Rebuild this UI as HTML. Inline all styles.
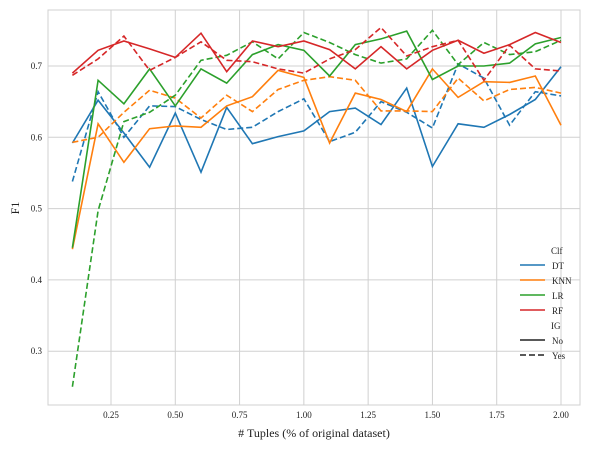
<!DOCTYPE html>
<html><head><meta charset="utf-8"><style>
body{margin:0;background:#fff;}
svg{display:block;font-family:"Liberation Serif",serif;}
</style></head><body>
<svg id="chart" width="595" height="450"></svg>
<script>
const xs=[0.1,0.2,0.3,0.4,0.5,0.6,0.7,0.8,0.9,1.0,1.1,1.2,1.3,1.4,1.5,1.6,1.7,1.8,1.9,2.0];
const xTicks=[0.25,0.5,0.75,1.0,1.25,1.5,1.75,2.0];
const xTickLabels=["0.25","0.50","0.75","1.00","1.25","1.50","1.75","2.00"];
const yTicks=[0.3,0.4,0.5,0.6,0.7];
const yTickLabels=["0.3","0.4","0.5","0.6","0.7"];
const dtNo=[0.592,0.652,0.606,0.558,0.634,0.551,0.642,0.591,0.601,0.609,0.636,0.641,0.618,0.669,0.559,0.619,0.614,0.632,0.653,0.699];
const dtYes=[0.538,0.664,0.600,0.644,0.643,0.625,0.611,0.614,0.636,0.654,0.594,0.607,0.650,0.635,0.613,0.703,0.683,0.617,0.664,0.658];
const knnNo=[0.443,0.619,0.565,0.612,0.616,0.614,0.644,0.657,0.694,0.684,0.592,0.662,0.653,0.636,0.696,0.656,0.678,0.677,0.686,0.617];
const knnYes=[0.593,0.600,0.635,0.666,0.655,0.627,0.659,0.636,0.667,0.680,0.685,0.680,0.637,0.637,0.636,0.683,0.651,0.667,0.670,0.662];
const lrNo=[0.445,0.680,0.647,0.696,0.644,0.696,0.676,0.716,0.730,0.722,0.686,0.730,0.738,0.749,0.681,0.700,0.700,0.704,0.731,0.740];
const lrYes=[0.250,0.497,0.622,0.635,0.659,0.708,0.715,0.734,0.710,0.747,0.733,0.716,0.704,0.710,0.750,0.702,0.733,0.716,0.720,0.736];
const rfNo=[0.690,0.722,0.735,0.724,0.712,0.746,0.692,0.735,0.727,0.735,0.723,0.696,0.727,0.696,0.722,0.736,0.718,0.730,0.747,0.733];
const rfYes=[0.687,0.710,0.742,0.694,0.712,0.734,0.708,0.706,0.696,0.690,0.710,0.723,0.754,0.714,0.727,0.736,0.680,0.729,0.696,0.693];

const NS="http://www.w3.org/2000/svg";
const svg=document.getElementById('chart');
function mk(t,a,p){const e=document.createElementNS(NS,t);for(const k in a)e.setAttribute(k,a[k]);(p||svg).appendChild(e);return e;}
const L=48,R=580,T=10,B=405;
const X=v=>111+(v-0.25)*(561-111)/1.75;
const Y=v=>66+(0.7-v)*713;

const grid=mk('g',{});


xTicks.forEach((t,i)=>{
  const l=mk('line',{x1:X(t),x2:X(t),y1:T,y2:B,stroke:'#d0d0d0','stroke-width':1},grid);
  
  
  const tx=mk('text',{x:X(t),y:B+13,'text-anchor':'middle','font-size':9,fill:'#222'});
  tx.textContent=xTickLabels[i];
  
  
});
yTicks.forEach((t,i)=>{
  const l=mk('line',{x1:L,x2:R,y1:Y(t),y2:Y(t),stroke:'#d0d0d0','stroke-width':1},grid);
  
  
  const tx=mk('text',{x:L-6,y:Y(t)+3,'text-anchor':'end','font-size':9,fill:'#222'});
  tx.textContent=yTickLabels[i];
  
  
});
const frame=mk('rect',{x:L,y:T,width:R-L,height:B-T,fill:'none',stroke:'#d0d0d0','stroke-width':1});



const series=[
 ['dt-no',dtNo,'#1f77b4',false],['dt-yes',dtYes,'#1f77b4',true],
 ['knn-no',knnNo,'#ff7f0e',false],['knn-yes',knnYes,'#ff7f0e',true],
 ['lr-no',lrNo,'#2ca02c',false],['lr-yes',lrYes,'#2ca02c',true],
 ['rf-no',rfNo,'#d62728',false],['rf-yes',rfYes,'#d62728',true]];
series.forEach(s=>{
  const d=s[1].map((v,i)=>(i?'L':'M')+X(xs[i]).toFixed(1)+','+Y(v).toFixed(1)).join(' ');
  const p=mk('path',{d:d,fill:'none',stroke:s[2],'stroke-width':1.6,'stroke-dasharray':s[3]?'6,3':'none'});
  
  
});

const xl=mk('text',{x:(L+R)/2,y:437,'text-anchor':'middle','font-size':12,fill:'#222'});
xl.textContent='# Tuples (% of original dataset)';


const yl=mk('text',{x:19,y:208,'text-anchor':'middle','font-size':12,fill:'#222',transform:'rotate(-90 19 208)'});
yl.textContent='F1';



const leg=mk('g',{});


const items=[['Clf',null,false,253],['DT','#1f77b4',false,268],['KNN','#ff7f0e',false,283],['LR','#2ca02c',false,298],['RF','#d62728',false,313],['IG',null,false,328],['No','#222',false,343],['Yes','#222',true,358]];
items.forEach(it=>{
  if(it[1]){
    const l=mk('line',{x1:520,x2:545,y1:it[3]-3,y2:it[3]-3,stroke:it[1],'stroke-width':1.6,'stroke-dasharray':it[2]?'6,3':'none'},leg);
    
    
  }
  const t=mk('text',{x:it[1]?552:551,y:it[3]+1,'font-size':9,fill:'#222'},leg);
  t.textContent=it[0];
  
  
});
</script>
</body></html>
